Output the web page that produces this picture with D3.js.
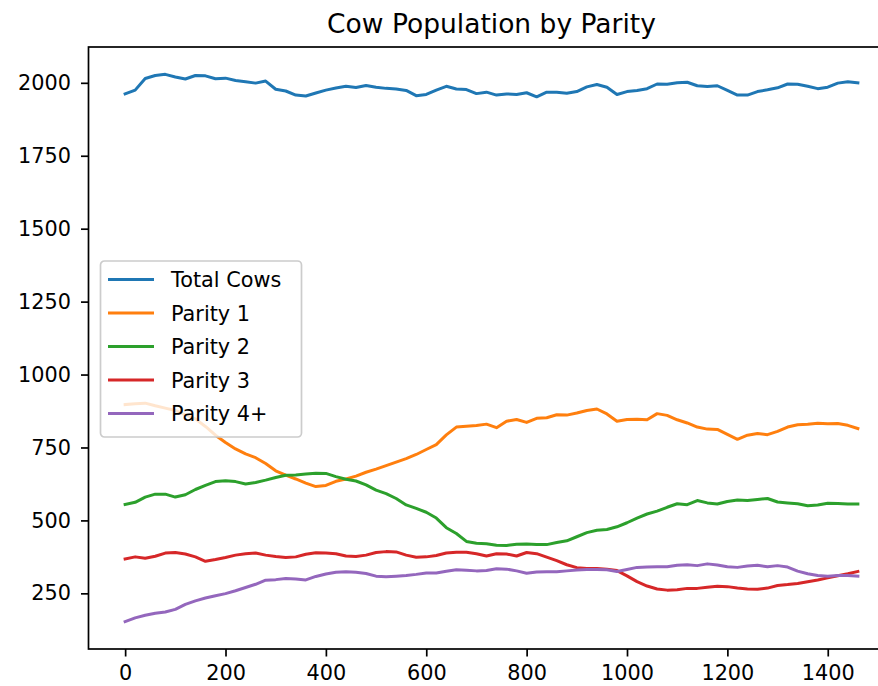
<!DOCTYPE html>
<html>
<head>
<meta charset="utf-8">
<script src="https://cdn.jsdelivr.net/npm/d3@7"></script>
<style>
body { margin: 0; background: #fff; }
text { font-family: "DejaVu Sans", sans-serif; }
</style>
</head>
<body>
<div id="chart-area"></div>
<script>
// days sampled every 20 days
var days = d3.range(0, 1461, 20);

var totalCows = [1962, 1975, 2015, 2025, 2029, 2020, 2013, 2025, 2024, 2014,
	2016, 2008, 2004, 1999, 2006, 1978, 1972, 1958, 1955, 1965,
	1975, 1982, 1988, 1984, 1991, 1985, 1981, 1979, 1974, 1956,
	1960, 1975, 1988, 1979, 1977, 1963, 1968, 1958, 1962, 1960,
	1966, 1952, 1968, 1968, 1964, 1970, 1986, 1994, 1985, 1960,
	1970, 1974, 1980, 1996, 1995, 2000, 2002, 1990, 1987, 1990,
	1974, 1958, 1958, 1970, 1976, 1983, 1996, 1995, 1988, 1980,
	1985, 1999, 2004, 2000];

var parity1 = [897, 900, 902, 893, 885, 877, 862, 848, 822, 792,
	767, 745, 728, 715, 695, 670, 655, 642, 628, 616,
	620, 634, 642, 652, 665, 676, 688, 700, 712, 726,
	743, 760, 793, 820, 823, 825, 830, 818, 840, 846,
	836, 850, 852, 862, 861, 868, 877, 882, 865, 840,
	846, 847, 845, 866, 860, 845, 834, 820, 813, 812,
	795, 778, 792, 798, 794, 805, 820, 828, 830, 833,
	831, 832, 826, 815];

var parity2 = [555, 562, 580, 590, 590, 580, 588, 606, 620, 633,
	636, 633, 625, 630, 638, 647, 655, 656, 659, 662,
	661, 650, 641, 635, 622, 604, 592, 575, 553, 541,
	528, 508, 475, 455, 428, 422, 420, 415, 414, 418,
	419, 417, 417, 424, 430, 444, 458, 466, 469, 478,
	492, 508, 522, 532, 545, 557, 554, 568, 560, 556,
	565, 570, 568, 572, 575, 563, 560, 557, 550, 553,
	559, 558, 556, 556];

var parity3 = [368, 375, 370, 377, 388, 390, 385, 375, 360, 366,
	373, 381, 386, 388, 381, 376, 373, 375, 384, 389,
	388, 386, 378, 376, 381, 390, 393, 392, 381, 374,
	375, 380, 388, 391, 391, 386, 378, 386, 385, 378,
	390, 386, 374, 362, 348, 338, 335, 335, 333, 328,
	310, 290, 275, 265, 261, 262, 267, 267, 271, 274,
	273, 268, 265, 264, 268, 277, 280, 284, 290, 296,
	303, 310, 317, 325];

var parity4 = [153, 166, 175, 182, 186, 195, 212, 224, 234, 242,
	249, 259, 270, 281, 295, 297, 301, 299, 296, 308,
	316, 322, 324, 322, 318, 309, 307, 309, 311, 315,
	320, 320, 326, 331, 329, 327, 328, 334, 333, 327,
	319, 323, 324, 324, 327, 330, 332, 332, 331, 325,
	332, 339, 340, 341, 341, 346, 348, 345, 351, 347,
	341, 339, 344, 346, 341, 345, 340, 326, 317, 311,
	309, 311, 311, 309];

var seriesNames = ["Total Cows", "Parity 1", "Parity 2", "Parity 3", "Parity 4+"];
var seriesValues = [totalCows, parity1, parity2, parity3, parity4];
var colors = ["#1f77b4", "#ff7f0e", "#2ca02c", "#d62728", "#9467bd"];

var xTicks = [0, 200, 400, 600, 800, 1000, 1200, 1400];
var yTicks = [250, 500, 750, 1000, 1250, 1500, 1750, 2000];

var margin = {top: 47, left: 88.5};
var width = 806;
var height = 602;

var svg = d3.select("#chart-area")
	.append("svg")
	.attr("width", 878)
	.attr("height", 686);

svg.append("text")
	.attr("x", margin.left + width / 2)
	.attr("y", 33)
	.attr("text-anchor", "middle")
	.attr("font-size", "26.5px")
	.style("fill", "#000")
	.text("Cow Population by Parity");

var g = svg.append("g")
	.attr("transform", "translate(" + margin.left + ", " + margin.top + ")");

// matplotlib-like 5% padding
var xExt = d3.extent(days);
var xPad = (xExt[1] - xExt[0]) * 0.05;
var x = d3.scaleLinear().domain([xExt[0] - xPad, xExt[1] + xPad]).range([0, width]);

var allVals = d3.merge(seriesValues);
var yExt = d3.extent(allVals);
var yPad = (yExt[1] - yExt[0]) * 0.05;
var y = d3.scaleLinear().domain([yExt[0] - yPad, yExt[1] + yPad]).range([height, 0]);

var line = d3.line()
	.x(function(d) { return x(d[0]); })
	.y(function(d) { return y(d[1]); });

seriesValues.forEach(function(vals, i) {
	g.append("path")
		.datum(days.map(function(d, j) { return [d, vals[j]]; }))
		.attr("fill", "none")
		.attr("stroke", colors[i])
		.attr("stroke-width", 3)
		.attr("stroke-linejoin", "round")
		.attr("stroke-linecap", "square")
		.attr("d", line);
});

var xAxisCall = d3.axisBottom(x).tickValues(xTicks).tickFormat(d3.format("d")).tickSize(7.5).tickPadding(12);
var yAxisCall = d3.axisLeft(y).tickValues(yTicks).tickFormat(d3.format("d")).tickSize(7.5).tickPadding(10);

var xAxisGroup = g.append("g")
	.attr("transform", "translate(0, " + height + ")")
	.call(xAxisCall);
var yAxisGroup = g.append("g").call(yAxisCall);

[xAxisGroup, yAxisGroup].forEach(function(ax) {
	ax.select(".domain").remove();
	ax.selectAll(".tick line").attr("stroke", "#000").attr("stroke-width", 1.7);
	ax.selectAll(".tick text")
		.attr("font-size", "20.8px")
		.attr("font-family", "DejaVu Sans, sans-serif")
		.style("fill", "#000");
});
xAxisGroup.selectAll(".tick text").attr("dy", "0.55em");

// frame
g.append("rect")
	.attr("width", width)
	.attr("height", height)
	.attr("fill", "none")
	.attr("stroke", "#000")
	.attr("stroke-width", 1.7);

// legend
var legend = g.append("g")
	.attr("transform", "translate(" + (100.5 - margin.left) + ", " + (261 - margin.top) + ")");

legend.append("rect")
	.attr("width", 201)
	.attr("height", 176)
	.attr("rx", 4)
	.attr("fill", "#fff")
	.attr("fill-opacity", 0.8)
	.attr("stroke", "#cccccc")
	.attr("stroke-width", 1.7);

seriesNames.forEach(function(name, i) {
	var row = legend.append("g")
		.attr("transform", "translate(0, " + (18.5 + i * 33.5) + ")");
	row.append("line")
		.attr("x1", 7.5)
		.attr("x2", 53.5)
		.attr("stroke", colors[i])
		.attr("stroke-width", 3);
	row.append("text")
		.attr("x", 70.5)
		.attr("dy", "0.36em")
		.attr("font-size", "20.8px")
		.style("fill", "#000")
		.text(name);
});
</script>
</body>
</html>
